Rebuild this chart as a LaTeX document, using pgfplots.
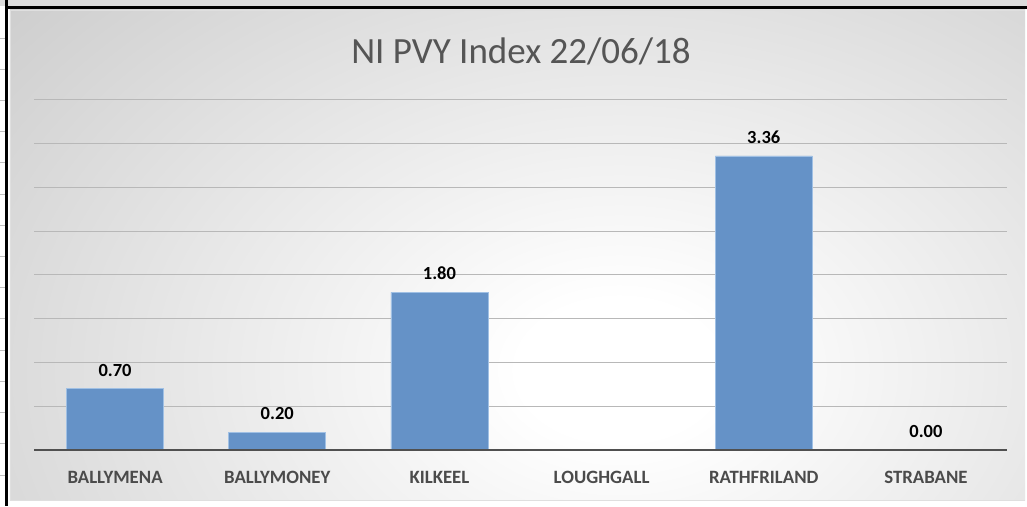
\documentclass[border=0pt]{standalone}
\usepackage{fontspec}
\setmainfont{Carlito}
\usepackage{pgfplots}
\pgfplotsset{compat=1.18}
\definecolor{barblue}{RGB}{101,146,199}
\definecolor{baredge}{RGB}{160,192,228}
\definecolor{gridgray}{RGB}{184,184,184}
\definecolor{axisgray}{RGB}{80,80,80}
\definecolor{labelgray}{RGB}{75,75,75}
\definecolor{titlegray}{RGB}{85,85,85}
\definecolor{bgouter}{RGB}{192,192,192}
\definecolor{stripgray}{RGB}{220,220,220}
\pgfdeclareradialshading{chartbg}{\pgfpoint{0bp}{0bp}}{color(0bp)=(white); color(2.5bp)=(white); color(25bp)=(bgouter); color(80bp)=(bgouter)}
\begin{document}
\begin{tikzpicture}
\path[use as bounding box, fill=white] (-34pt,-56pt) rectangle (993pt,450pt);
% top strip and frame lines
\fill[stripgray] (-34pt,443.5pt) rectangle (993pt,450pt);
\fill[black] (-29pt,441pt) rectangle (993pt,443.5pt);
\fill[black] (-28.7pt,-56pt) rectangle (-26pt,450pt);
\foreach \k in {0,...,14} {
  \draw[gray!50, line width=0.6pt] (-34pt,{412pt-31.2pt*\k}) -- (-29pt,{412pt-31.2pt*\k});
}
% chart area background
\begin{scope}
\clip (-24pt,-50pt) rectangle (991pt,440pt);
\shade[shading=chartbg] (-415pt,-620pt) rectangle (1585pt,780pt);
\end{scope}
\draw[gray!25, line width=0.6pt] (991pt,440pt) -- (-24pt,440pt) -- (-24pt,-50pt) -- (991pt,-50pt);
% title
\node[anchor=base, font=\fontsize{37}{40}\selectfont, text=titlegray, inner sep=0pt] at (487pt,386.7pt) {NI PVY Index 22/06/18};
\begin{axis}[
  at={(0pt,0pt)}, anchor=south west,
  scale only axis, width=973pt, height=350pt,
  xmin=-0.5, xmax=5.5, ymin=0, ymax=4,
  axis line style={draw=none},
  ytick={0.5,1,...,4}, yticklabels={},
  ymajorgrids, grid style={gridgray, line width=1pt},
  major tick length=0pt,
  xtick={0,...,5},
  xticklabels={BALLYMENA,BALLYMONEY,KILKEEL,LOUGHGALL,RATHFRILAND,STRABANE},
  xticklabel style={font=\fontsize{18.8}{20}\selectfont\bfseries, text=labelgray, anchor=base, yshift=-33pt},
  ybar, bar width=97pt,
  point meta=explicit symbolic,
  nodes near coords,
  every node near coord/.append style={font=\fontsize{18.5}{20}\selectfont\bfseries, text=black, inner sep=0pt, yshift=12pt},
  clip=false,
]
\addplot[fill=barblue, draw=baredge, line width=0.8pt] coordinates {
  (0,0.70) [0.70]
  (1,0.20) [0.20]
  (2,1.80) [1.80]
  (4,3.36) [3.36]
  (5,0.00) [0.00]
};
\draw[axisgray, line width=2.5pt] (axis cs:-0.5,0) -- (axis cs:5.5,0);
\end{axis}
\end{tikzpicture}
\end{document}
